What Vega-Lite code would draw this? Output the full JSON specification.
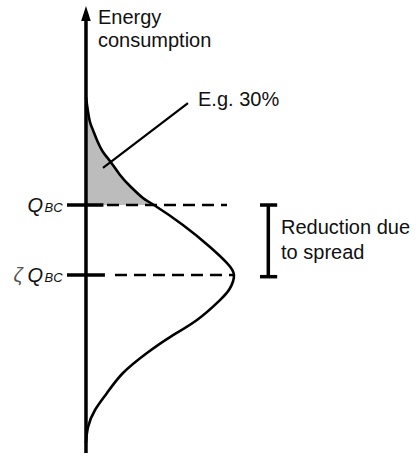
{
  "$schema": "https://vega.github.io/schema/vega-lite/v6.json",
  "width": 416,
  "height": 457,
  "autosize": {"type": "fit", "contains": "padding"},
  "padding": 0,
  "background": "white",
  "view": {"stroke": null},
  "config": {"font": "Liberation Sans"},
  "datasets": {
    "curve": [
      {"i": 1, "d": 0.0, "e": 2.543},
      {"i": 2, "d": 0.007, "e": 2.429},
      {"i": 3, "d": 0.014, "e": 2.329},
      {"i": 4, "d": 0.027, "e": 2.186},
      {"i": 5, "d": 0.047, "e": 2.071},
      {"i": 6, "d": 0.074, "e": 1.929},
      {"i": 7, "d": 0.115, "e": 1.757},
      {"i": 8, "d": 0.162, "e": 1.629},
      {"i": 9, "d": 0.23, "e": 1.429},
      {"i": 10, "d": 0.304, "e": 1.257},
      {"i": 11, "d": 0.385, "e": 1.1},
      {"i": 12, "d": 0.459, "e": 1.0},
      {"i": 13, "d": 0.655, "e": 0.714},
      {"i": 14, "d": 0.838, "e": 0.4},
      {"i": 15, "d": 0.953, "e": 0.171},
      {"i": 16, "d": 1.0, "e": 0.0},
      {"i": 17, "d": 0.97, "e": -0.2},
      {"i": 18, "d": 0.9, "e": -0.37},
      {"i": 19, "d": 0.75, "e": -0.643},
      {"i": 20, "d": 0.568, "e": -0.886},
      {"i": 21, "d": 0.412, "e": -1.114},
      {"i": 22, "d": 0.25, "e": -1.4},
      {"i": 23, "d": 0.142, "e": -1.686},
      {"i": 24, "d": 0.061, "e": -1.929},
      {"i": 25, "d": 0.014, "e": -2.171},
      {"i": 26, "d": 0.0, "e": -2.4}
    ],
    "hatch": [
      {"d": 0.0, "z": 0, "e": 2.543},
      {"d": 0.007, "z": 0, "e": 2.429},
      {"d": 0.014, "z": 0, "e": 2.329},
      {"d": 0.027, "z": 0, "e": 2.186},
      {"d": 0.047, "z": 0, "e": 2.071},
      {"d": 0.074, "z": 0, "e": 1.929},
      {"d": 0.115, "z": 0, "e": 1.757},
      {"d": 0.162, "z": 0, "e": 1.629},
      {"d": 0.23, "z": 0, "e": 1.429},
      {"d": 0.304, "z": 0, "e": 1.257},
      {"d": 0.385, "z": 0, "e": 1.1},
      {"d": 0.459, "z": 0, "e": 1.0}
    ],
    "thick": [
      {"d": 0, "d2": 0, "e": -2.543, "e2": 3.7},
      {"d": -0.128, "d2": 0.118, "e": 1, "e2": 1},
      {"d": -0.128, "d2": 0.128, "e": 0, "e2": 0},
      {"d": 1.232, "d2": 1.232, "e": -0.024, "e2": 1},
      {"d": 1.176, "d2": 1.292, "e": 1, "e2": 1},
      {"d": 1.176, "d2": 1.292, "e": -0.024, "e2": -0.024}
    ],
    "dashed": [
      {"d": 0.142, "d2": 0.953, "e": 1, "e2": 1},
      {"d": 0.196, "d2": 1.0, "e": 0, "e2": 0}
    ],
    "leader": [
      {"d": 0.689, "d2": 0.115, "e": 2.457, "e2": 1.529}
    ],
    "arrow": [
      {"d": 0, "e": 3.7}
    ],
    "labels": [
      {"d": 0.081, "e": 3.586, "t": "Energy"},
      {"d": 0.081, "e": 3.257, "t": "consumption"},
      {"d": 0.757, "e": 2.414, "t": "E.g. 30%"},
      {"d": 1.318, "e": 0.586, "t": "Reduction due"},
      {"d": 1.318, "e": 0.229, "t": "to spread"}
    ],
    "qlabels": [
      {"d": -0.395, "e": 0.9, "t": "Q"},
      {"d": -0.395, "e": -0.1, "t": "Q"}
    ],
    "sublabels": [
      {"d": -0.28, "e": 0.9, "t": "BC"},
      {"d": -0.28, "e": -0.1, "t": "BC"}
    ],
    "zeta": [
      {"d": -0.49, "e": -0.1, "t": "ζ"}
    ]
  },
  "encoding": {
    "x": {"field": "d", "type": "quantitative", "scale": {"domain": [-0.581, 2.23], "nice": false, "zero": false}, "axis": null},
    "y": {"field": "e", "type": "quantitative", "scale": {"domain": [-2.6, 3.929], "nice": false, "zero": false}, "axis": null}
  },
  "layer": [
    {
      "data": {"name": "hatch"},
      "mark": {"type": "area", "orient": "horizontal", "interpolate": "natural", "color": "#bcbcbc", "opacity": 1},
      "encoding": {
        "x2": {"field": "z"}
      }
    },
    {
      "data": {"name": "curve"},
      "mark": {"type": "line", "orient": "horizontal", "interpolate": "natural", "color": "black", "strokeWidth": 2.6},
      "encoding": {
        "order": {"field": "i", "type": "quantitative"}
      }
    },
    {
      "data": {"name": "thick"},
      "mark": {"type": "rule", "color": "black", "strokeWidth": 3.5},
      "encoding": {
        "x2": {"field": "d2"},
        "y2": {"field": "e2"}
      }
    },
    {
      "data": {"name": "dashed"},
      "mark": {"type": "rule", "color": "black", "strokeWidth": 2.3, "strokeDash": [12, 7]},
      "encoding": {
        "x2": {"field": "d2"},
        "y2": {"field": "e2"}
      }
    },
    {
      "data": {"name": "leader"},
      "mark": {"type": "rule", "color": "black", "strokeWidth": 2.2},
      "encoding": {
        "x2": {"field": "d2"},
        "y2": {"field": "e2"}
      }
    },
    {
      "data": {"name": "arrow"},
      "mark": {"type": "point", "shape": "M0,-1L0.48,0.5L-0.48,0.5Z", "size": 400, "filled": true, "color": "black", "opacity": 1, "strokeWidth": 0}
    },
    {
      "data": {"name": "labels"},
      "mark": {"type": "text", "align": "left", "baseline": "alphabetic", "fontSize": 20, "color": "#111"},
      "encoding": {"text": {"field": "t"}}
    },
    {
      "data": {"name": "qlabels"},
      "mark": {"type": "text", "align": "left", "baseline": "alphabetic", "fontSize": 20, "fontStyle": "italic", "color": "#111"},
      "encoding": {"text": {"field": "t"}}
    },
    {
      "data": {"name": "sublabels"},
      "mark": {"type": "text", "align": "left", "baseline": "alphabetic", "fontSize": 13, "fontStyle": "italic", "color": "#111"},
      "encoding": {"text": {"field": "t"}}
    },
    {
      "data": {"name": "zeta"},
      "mark": {"type": "text", "align": "left", "baseline": "alphabetic", "fontSize": 20, "fontStyle": "italic", "color": "#555"},
      "encoding": {"text": {"field": "t"}}
    }
  ]
}
